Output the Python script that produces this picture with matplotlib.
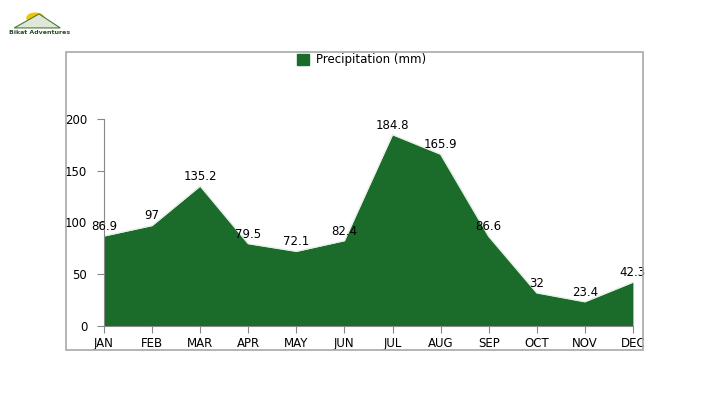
import matplotlib.pyplot as plt
from matplotlib.patches import Rectangle, Circle, Polygon

months = ["JAN", "FEB", "MAR", "APR", "MAY", "JUN", "JUL", "AUG", "SEP", "OCT", "NOV", "DEC"]
precip = [86.9, 97, 135.2, 79.5, 72.1, 82.4, 184.8, 165.9, 86.6, 32, 23.4, 42.3]
green = "#1b6b2b"

fig = plt.figure(figsize=(7.09, 3.99), dpi=100)

# outer chart frame
fig.patches.append(Rectangle((0.093, 0.123), 0.814, 0.747, transform=fig.transFigure,
                             fill=False, edgecolor="#a8a8a8", linewidth=1.2))

ax = fig.add_axes([0.1467, 0.183, 0.746, 0.519])
x = list(range(len(months)))
ax.fill_between(x, precip, color=green, linewidth=0)
ax.plot(x, precip, color="#e8efe8", linewidth=1.0)
for xi, v in zip(x, precip):
    ax.text(xi, v + 3, f"{v:g}", ha="center", va="bottom", fontsize=8.5, color="#000000")

ax.set_xlim(0, 11)
ax.set_ylim(0, 200)
ax.set_xticks(x)
ax.set_xticklabels(months)
ax.set_yticks([0, 50, 100, 150, 200])
for s in ["top", "right"]:
    ax.spines[s].set_visible(False)
for s in ["left", "bottom"]:
    ax.spines[s].set_color("#888888")
ax.tick_params(axis="both", colors="#888888", labelcolor="#000000", labelsize=8.5, length=5)
ax.tick_params(axis="y", pad=7)
ax.tick_params(axis="x", pad=3)

ax.legend([Rectangle((0, 0), 1, 1, color=green)], ["Precipitation (mm)"],
          loc="center", bbox_to_anchor=(0.51, 0.85), bbox_transform=fig.transFigure,
          frameon=False, fontsize=8.5, handlelength=1.0, handleheight=1.0, handletextpad=0.6)

# small logo
fig.patches.append(Circle((0.05, 0.955), 0.012, transform=fig.transFigure, color="#f5c400"))
fig.patches.append(Polygon([(0.02, 0.93), (0.055, 0.965), (0.085, 0.93)], closed=True,
                           transform=fig.transFigure, facecolor="#dfe8d8", edgecolor="#4a7a3a", linewidth=0.8))
fig.text(0.012, 0.918, "Bikat Adventures", fontsize=4.5, fontweight="bold", color="#2d4a2d", va="center")

fig.savefig("out.png", dpi=100)
